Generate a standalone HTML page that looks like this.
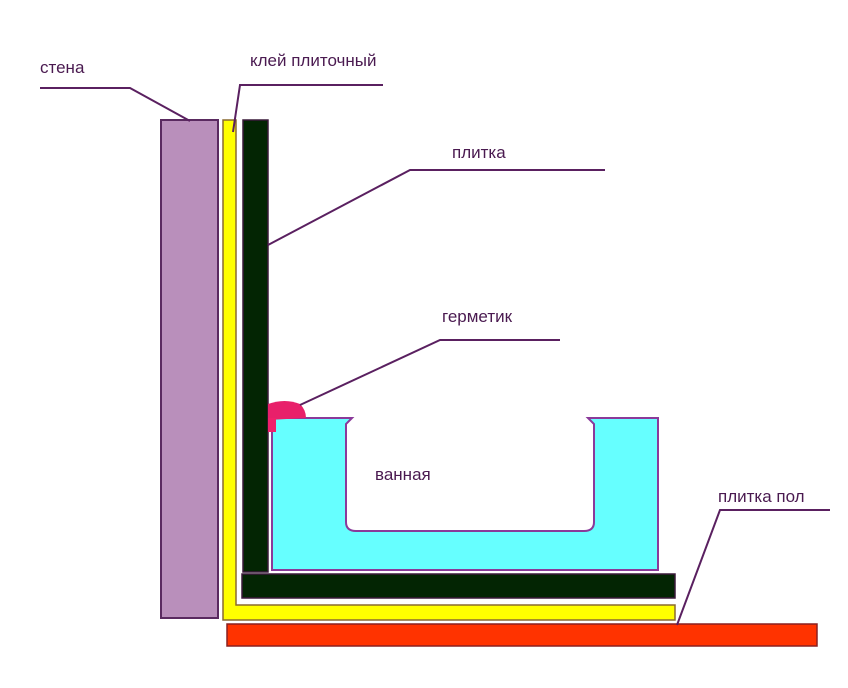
<!DOCTYPE html>
<html><head><meta charset="utf-8"><style>
html,body{margin:0;padding:0;background:#fff;}
svg{display:block}
text{font-family:"Liberation Sans",sans-serif;font-size:17px;fill:#4a1a50;}
</style></head><body>
<svg width="848" height="688" viewBox="0 0 848 688" xmlns="http://www.w3.org/2000/svg">
<rect width="848" height="688" fill="#fff"/>
<!-- wall -->
<rect x="161" y="120" width="57" height="498" fill="#b98fbb" stroke="#5a2a60" stroke-width="2"/>
<!-- yellow adhesive L -->
<path d="M223,120 L236,120 L236,605 L675,605 L675,620 L226,620 L223,620 Z" fill="#ffff00" stroke="#8a6a30" stroke-width="1.5"/>
<!-- tile L -->
<rect x="243" y="120" width="25" height="452" fill="#032503" stroke="#3a1a3a" stroke-width="1.5"/>
<rect x="242" y="574" width="433" height="24" fill="#032503" stroke="#3a1a3a" stroke-width="1.5"/>
<!-- floor tile red -->
<rect x="227" y="624" width="590" height="22" fill="#ff3300" stroke="#8a2020" stroke-width="1.5"/>
<!-- bath -->
<path d="M272,418 L352,418 L346,424 L346,522 Q346,531 356,531 L584,531 Q594,531 594,522 L594,424 L588,418 L658,418 L658,570 L272,570 Z" fill="#66ffff" stroke="#8a3a9a" stroke-width="2"/>
<!-- sealant -->
<path d="M268,420 L268,404 Q285,398 300,404 Q306,410 306,418 Z" fill="#e8206a"/>
<rect x="268" y="418" width="8" height="14" fill="#f0206a"/>
<!-- leader lines -->
<g stroke="#5a2060" stroke-width="2" fill="none">
<polyline points="40,88 130,88 190,121"/>
<polyline points="383,85 240,85 233,132"/>
<polyline points="605,170 410,170 268,245"/>
<polyline points="560,340 440,340 300,405"/>
<polyline points="830,510 720,510 677,625"/>
</g>
<text x="40" y="73">стена</text>
<text x="250" y="66">клей плиточный</text>
<text x="452" y="158">плитка</text>
<text x="442" y="322">герметик</text>
<text x="375" y="480">ванная</text>
<text x="718" y="502">плитка пол</text>
</svg>
</body></html>
